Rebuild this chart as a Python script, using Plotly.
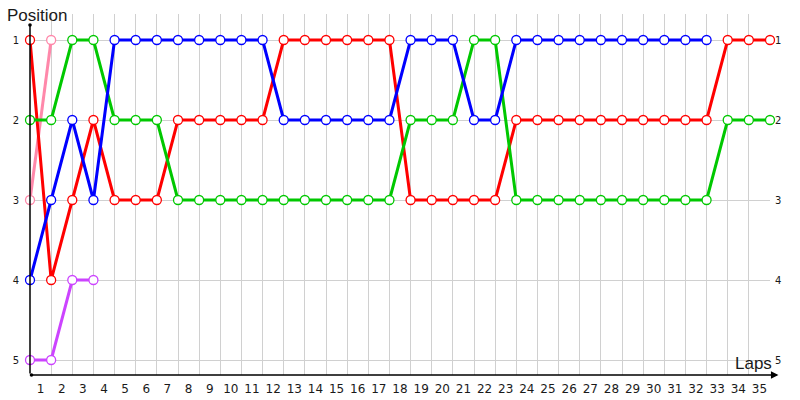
import plotly.graph_objects as go

laps = list(range(0, 36))
tick_labels = [str(i) for i in range(1, 36)]
positions = [1, 2, 3, 4, 5]

red = [1, 4, 3, 2, 3, 3, 3, 2, 2, 2, 2, 2, 1, 1, 1, 1, 1, 1, 3, 3, 3, 3, 3,
       2, 2, 2, 2, 2, 2, 2, 2, 2, 2, 1, 1, 1]
green = [2, 2, 1, 1, 2, 2, 2, 3, 3, 3, 3, 3, 3, 3, 3, 3, 3, 3, 2, 2, 2, 1, 1,
         3, 3, 3, 3, 3, 3, 3, 3, 3, 3, 2, 2, 2]
blue = [4, 3, 2, 3, 1, 1, 1, 1, 1, 1, 1, 1, 2, 2, 2, 2, 2, 2, 1, 1, 1, 2, 2,
        1, 1, 1, 1, 1, 1, 1, 1, 1, 1]
pink = [3, 1]
purple = [5, 5, 4, 4]

series = [
    ("Pink", pink, "#ff88aa"),
    ("Purple", purple, "#cc44ff"),
    ("Red", red, "#ff0000"),
    ("Green", green, "#00c800"),
    ("Blue", blue, "#0000ff"),
]

fig = go.Figure()
for name, vals, col in series:
    fig.add_trace(go.Scatter(
        x=laps[:len(vals)], y=vals, mode="lines+markers", name=name,
        line=dict(color=col, width=3),
        marker=dict(symbol="circle", size=9, color="white",
                    line=dict(color=col, width=1.3)),
        cliponaxis=False, showlegend=False,
    ))

# invisible trace to carry right-hand axis
fig.add_trace(go.Scatter(x=[0], y=[1], yaxis="y2", mode="markers",
                         marker=dict(opacity=0), showlegend=False,
                         hoverinfo="skip"))

YMAX = 5.1875
YMIN = 0.675
font = "DejaVu Sans, Verdana, sans-serif"
title_font = "Liberation Sans, Arial, sans-serif"

fig.update_layout(
    width=800, height=400,
    margin=dict(l=30, r=30, t=14, b=25, autoexpand=False),
    paper_bgcolor="white", plot_bgcolor="white",
    font=dict(family=font, color="#000000"),
    xaxis=dict(
        range=[0, 35], tickmode="array", automargin=False,
        tickvals=[i + 0.5 for i in range(35)], ticktext=tick_labels,
        showgrid=False, zeroline=False, showline=False,
        tickfont=dict(size=12, color="#1a1a1a"), ticklabelstandoff=5,
        minor=dict(tickmode="array", tickvals=laps, showgrid=True,
                   gridcolor="#d0d0d0", gridwidth=1, ticks=""),
    ),
    yaxis=dict(
        range=[YMAX, YMIN], tickmode="array", tickvals=positions,
        ticktext=[str(p) for p in positions], automargin=False,
        showgrid=True, gridcolor="#d0d0d0", gridwidth=1,
        zeroline=False, showline=False,
        tickfont=dict(size=10, color="#1a1a1a"), ticklabelstandoff=10,
    ),
    yaxis2=dict(
        overlaying="y", side="right", range=[YMAX, YMIN], tickmode="array",
        tickvals=positions, ticktext=[str(p) for p in positions],
        automargin=False,
        showgrid=False, zeroline=False, showline=False,
        tickfont=dict(size=10, color="#1a1a1a"), ticklabelstandoff=4,
    ),
)

# axis lines with arrow / dot ends
fig.add_annotation(x=35.4, y=YMAX, ax=0, ay=YMAX, xref="x", yref="y",
                   axref="x", ayref="y", showarrow=True, arrowhead=2,
                   arrowsize=1, arrowwidth=1.5, arrowcolor="black", text="",
                   startarrowhead=6, startarrowsize=0.6, arrowside="end+start")
fig.add_annotation(x=0, y=0.8125, ax=0, ay=YMAX, xref="x", yref="y",
                   axref="x", ayref="y", showarrow=True, arrowhead=6,
                   arrowsize=0.6, arrowwidth=1.5, arrowcolor="black", text="")

fig.add_annotation(text="Position", xref="paper", yref="paper",
                   x=-0.034, y=0.997, xanchor="left", yanchor="middle",
                   showarrow=False,
                   font=dict(family=title_font, size=17, color="#1a1a1a"))
fig.add_annotation(text="Laps", xref="paper", yref="paper", x=1.005, y=0.032,
                   xanchor="right", yanchor="middle",
                   showarrow=False,
                   font=dict(family=title_font, size=17, color="#1a1a1a"))

fig.write_html("out.html", config={"displayModeBar": False},
               post_script="document.body.style.margin='0';"
                           "document.body.style.padding='0';")
